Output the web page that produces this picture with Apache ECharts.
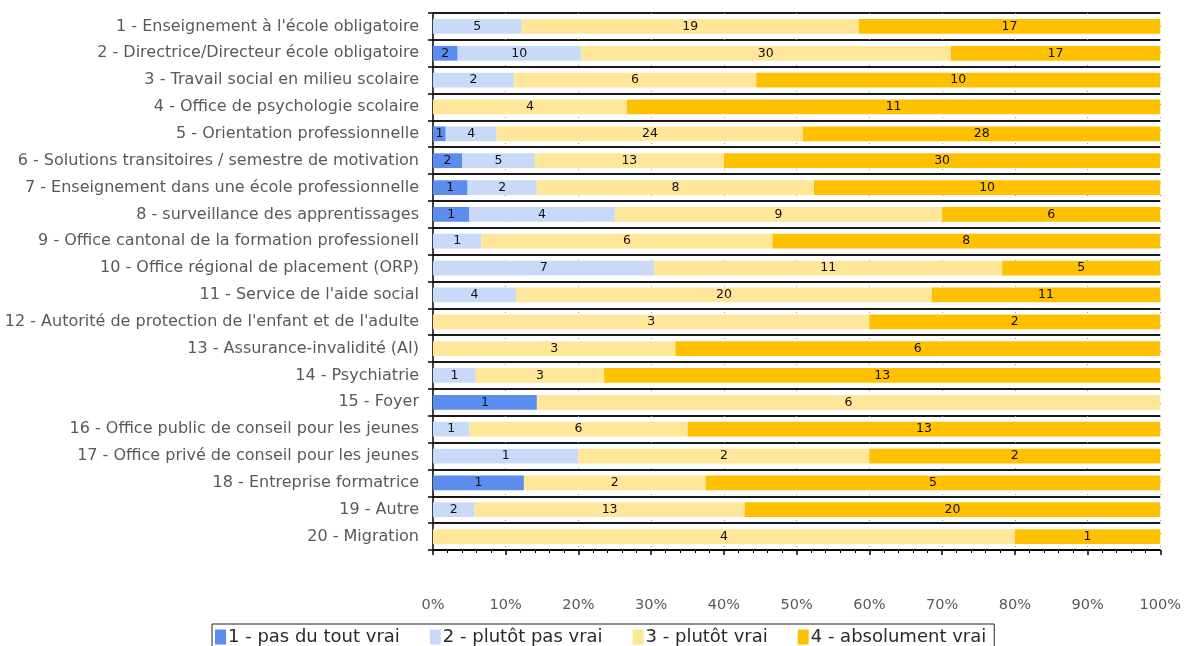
<!DOCTYPE html>
<html>
<head>
<meta charset="utf-8">
<script src="https://cdn.jsdelivr.net/npm/echarts@6/dist/echarts.min.js"></script>
<style>html,body{margin:0;padding:0;background:#fff;}#c{width:1184px;height:646px;}</style>
</head>
<body>
<div id="c"></div>
<script>
const categories = [
  "1 - Enseignement à l'école obligatoire",
  "2 - Directrice/Directeur école obligatoire",
  "3 - Travail social en milieu scolaire",
  "4 - Office de psychologie scolaire",
  "5 - Orientation professionnelle",
  "6 - Solutions transitoires / semestre de motivation",
  "7 - Enseignement dans une école professionnelle",
  "8 - surveillance des apprentissages",
  "9 - Office cantonal de la formation professionell",
  "10 - Office régional de placement (ORP)",
  "11 - Service de l'aide social",
  "12 - Autorité de protection de l'enfant et de l'adulte",
  "13 - Assurance-invalidité (AI)",
  "14 - Psychiatrie",
  "15 - Foyer",
  "16 - Office public de conseil pour les jeunes",
  "17 - Office privé de conseil pour les jeunes",
  "18 - Entreprise formatrice",
  "19 - Autre",
  "20 - Migration"
];
const seriesNames = ["1 - pas du tout vrai", "2 - plutôt pas vrai", "3 - plutôt vrai", "4 - absolument vrai"];
const s1 = [0, 2, 0, 0, 1, 2, 1, 1, 0, 0, 0, 0, 0, 0, 1, 0, 0, 1, 0, 0];
const s2 = [5, 10, 2, 0, 4, 5, 2, 4, 1, 7, 4, 0, 0, 1, 0, 1, 1, 0, 2, 0];
const s3 = [19, 30, 6, 4, 24, 13, 8, 9, 6, 11, 20, 3, 3, 3, 6, 6, 2, 2, 13, 4];
const s4 = [17, 17, 10, 11, 28, 30, 10, 6, 8, 5, 11, 2, 6, 13, 0, 13, 2, 5, 20, 1];
const xTicks = [0, 10, 20, 30, 40, 50, 60, 70, 80, 90, 100];
const colors = ["#5B8DEF", "#C9DAF8", "#FFE699", "#FFC000"];

const all = [s1, s2, s3, s4];
const totals = categories.map((_, i) => s1[i] + s2[i] + s3[i] + s4[i]);

const font = "'DejaVu Sans', sans-serif";
const chart = echarts.init(document.getElementById('c'), null, {renderer: 'canvas'});
chart.setOption({
  animation: false,
  color: colors,
  grid: {left: 433, right: 21, top: 13, bottom: 96, containLabel: false},
  xAxis: {
    type: 'value', min: xTicks[0], max: xTicks[xTicks.length - 1], interval: 10,
    axisLine: {show: true, lineStyle: {color: '#000', width: 1.5}},
    axisTick: {show: true, length: 5, lineStyle: {color: '#000', width: 1.5}},
    minorTick: {show: true, splitNumber: 5, length: 3, lineStyle: {color: '#000'}},
    splitLine: {show: true, lineStyle: {color: '#9a9a9a', width: 1, type: [1, 12]}},
    axisLabel: {formatter: v => v + '%', color: '#595959', fontSize: 14.5, fontFamily: font, margin: 48}
  },
  yAxis: {
    type: 'category', data: categories, inverse: true,
    axisLine: {show: true, lineStyle: {color: '#000', width: 1.5}},
    axisTick: {show: true, length: 5, lineStyle: {color: '#000', width: 1.5}},
    splitLine: {show: true, lineStyle: {color: '#1a1a1a', width: 2}},
    axisLabel: {color: '#595959', fontSize: 16, fontFamily: font, margin: 14}
  },
  legend: {
    data: seriesNames, left: 212, top: 624,
    borderColor: '#222', borderWidth: 1, padding: [4, 8, 4, 3],
    itemWidth: 11, itemHeight: 15, itemGap: 30,
    icon: 'rect',
    textStyle: {color: '#2a2a2a', fontSize: 18, fontFamily: font, padding: [0, 0, 0, -3]}
  },
  series: all.map((arr, k) => ({
    name: seriesNames[k], type: 'bar', stack: 'total', barWidth: '55%',
    itemStyle: {color: colors[k]},
    data: arr.map((v, i) => ({value: v / totals[i] * 100, count: v})),
    label: {
      show: true, position: 'inside', color: '#111', fontSize: 12.5, fontFamily: font,
      formatter: p => p.data.count > 0 ? String(p.data.count) : ''
    }
  }))
});
</script>
</body>
</html>
